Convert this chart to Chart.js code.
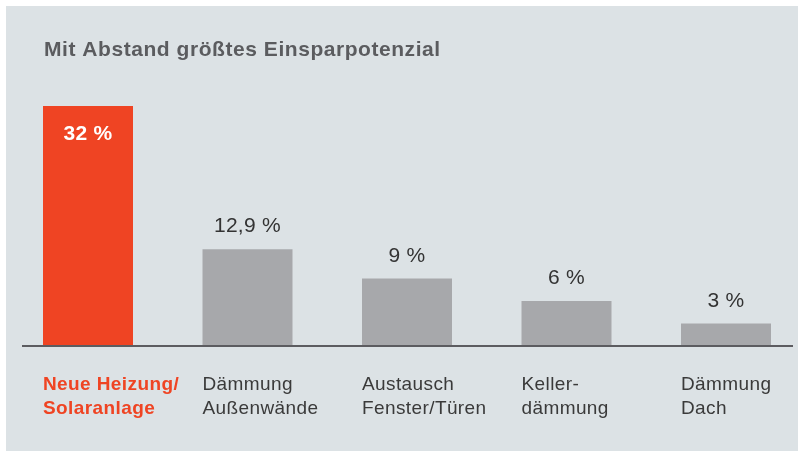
<!DOCTYPE html>
<html>
<head>
<meta charset="utf-8">
<script src="https://cdn.jsdelivr.net/npm/chart.js@4"></script>
<style>html,body{margin:0;padding:0;background:#fff;}canvas{display:block;}</style>
</head>
<body>
<canvas id="c" width="798" height="451"></canvas>
<script>
const chartTitle = "Mit Abstand größtes Einsparpotenzial";
const categories = [
  ["Neue Heizung/", "Solaranlage"],
  ["Dämmung", "Außenwände"],
  ["Austausch", "Fenster/Türen"],
  ["Keller-", "dämmung"],
  ["Dämmung", "Dach"]
];
const values = [32, 12.9, 9, 6, 3];
const valueLabels = ["32 %", "12,9 %", "9 %", "6 %", "3 %"];
const highlightIndex = 0;

const RED = "#ef4423";
const GRAY = "#a7a8ab";
const FONT = "'Liberation Sans', Arial, Helvetica, sans-serif";

const bgPlugin = {
  id: "bg",
  beforeDraw(chart) {
    const ctx = chart.ctx;
    ctx.save();
    ctx.fillStyle = "#ffffff";
    ctx.fillRect(0, 0, chart.width, chart.height);
    ctx.fillStyle = "#dce2e5";
    ctx.fillRect(6, 6, chart.width - 6, chart.height - 6);
    ctx.restore();
  }
};

const labelPlugin = {
  id: "labels",
  afterDatasetsDraw(chart) {
    const ctx = chart.ctx;
    const yScale = chart.scales.y;
    const y0 = yScale.getPixelForValue(0);
    const meta = chart.getDatasetMeta(0);
    ctx.save();
    // axis line
    ctx.fillStyle = "#5c5c60";
    ctx.fillRect(22, Math.round(y0) - 1, 771, 2);
    // title
    ctx.fillStyle = "#5b5c5f";
    ctx.font = "bold 21px " + FONT;
    ctx.letterSpacing = "0.55px";
    ctx.textAlign = "left";
    ctx.textBaseline = "alphabetic";
    ctx.fillText(chartTitle, 44, 56);
    meta.data.forEach((bar, i) => {
      const props = bar.getProps(["x", "y", "width"], true);
      const left = props.x - props.width / 2;
      // value labels
      ctx.letterSpacing = "0.3px";
      ctx.textAlign = "center";
      if (i === highlightIndex) {
        ctx.fillStyle = "#ffffff";
        ctx.font = "bold 21px " + FONT;
        ctx.fillText(valueLabels[i], props.x, props.y + 34);
      } else {
        ctx.fillStyle = "#333333";
        ctx.font = "21px " + FONT;
        ctx.fillText(valueLabels[i], props.x, props.y - 17);
      }
      // category labels
      ctx.textAlign = "left";
      ctx.letterSpacing = "0.4px";
      if (i === highlightIndex) {
        ctx.fillStyle = RED;
        ctx.font = "bold 19px " + FONT;
      } else {
        ctx.fillStyle = "#3a3a3a";
        ctx.font = "19px " + FONT;
      }
      categories[i].forEach((line, k) => {
        ctx.fillText(line, left, y0 + 44 + k * 24);
      });
    });
    ctx.restore();
  }
};

new Chart(document.getElementById("c"), {
  type: "bar",
  data: {
    labels: categories.map(c => c.join(" ")),
    datasets: [{
      data: values,
      backgroundColor: values.map((v, i) => i === highlightIndex ? RED : GRAY),
      borderWidth: 0,
      barPercentage: 90 / 159.5,
      categoryPercentage: 1,
      clip: false
    }]
  },
  options: {
    responsive: false,
    animation: false,
    devicePixelRatio: 1,
    layout: { padding: { left: 88, right: 72, top: 46, bottom: 105 } },
    scales: {
      x: { type: "category", offset: false, display: false },
      y: { display: false, min: 0, max: 40 }
    },
    plugins: { legend: { display: false }, tooltip: { enabled: false }, title: { display: false } }
  },
  plugins: [bgPlugin, labelPlugin]
});
</script>
</body>
</html>
